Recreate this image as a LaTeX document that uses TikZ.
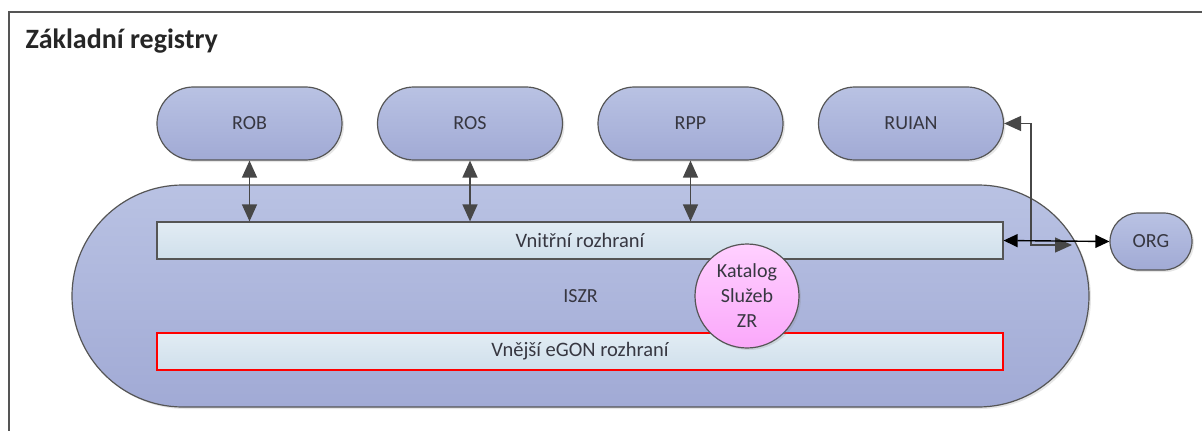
\documentclass[tikz,border=0pt]{standalone}
\usepackage{fontspec}
\setmainfont{Carlito}
\usetikzlibrary{arrows.meta, shadows}

\definecolor{regtop}{RGB}{185,194,227}
\definecolor{regbot}{RGB}{161,170,213}
\definecolor{iftop}{RGB}{226,236,244}
\definecolor{ifbot}{RGB}{207,223,235}
\definecolor{katop}{RGB}{255,208,255}
\definecolor{kabot}{RGB}{250,168,250}
\definecolor{edge}{RGB}{85,85,85}
\definecolor{txt}{RGB}{55,55,65}

\begin{document}
\begin{tikzpicture}[x=1pt, y=-1pt,
  registr/.style={draw=edge, line width=1.2pt, top color=regtop, bottom color=regbot,
    text=txt, font=\fontsize{20}{24}\selectfont,
    drop shadow={opacity=0.2, shadow xshift=2pt, shadow yshift=-2pt}},
  rozhrani/.style={draw=edge, line width=1.2pt, top color=iftop, bottom color=ifbot,
    text=txt, font=\fontsize{20.5}{24}\selectfont, minimum width=846pt, minimum height=37pt},
  spoj/.style={-, line width=1.4pt, draw=black!72},
  hrot/.style={arrows={Triangle[length=17pt, width=15pt]-Triangle[length=17pt, width=15pt]}}]

  \useasboundingbox (0,0) rectangle (1202,431);

  % Frame and title
  \draw[edge, line width=1.5pt] (1202,12) -- (9,12) -- (9,431);
  \node[anchor=base west, text=black!85, font=\fontsize{28}{32}\selectfont\bfseries]
    (nadpis) at (22,48) {Základní registry};

  % ISZR
  \node[registr, minimum width=1017pt, minimum height=222pt, rounded corners=110.9pt]
    (iszr) at (580.5,296) {ISZR};

  % Registers
  \node[registr, minimum width=185pt, minimum height=73pt, rounded corners=36.4pt]
    (rob) at (249.5,123.5) {ROB};
  \node[registr, minimum width=185pt, minimum height=73pt, rounded corners=36.4pt]
    (ros) at (470,123.5) {ROS};
  \node[registr, minimum width=185pt, minimum height=73pt, rounded corners=36.4pt]
    (rpp) at (690.5,123.5) {RPP};
  \node[registr, minimum width=185pt, minimum height=73pt, rounded corners=36.4pt]
    (ruian) at (911,123.5) {RUIAN};
  \node[registr, minimum width=82pt, minimum height=57pt, rounded corners=28.4pt]
    (org) at (1151,241.5) {ORG};

  % Interfaces
  \node[rozhrani] (vnitrni) at (580,240.5) {Vnitřní rozhraní};
  \node[rozhrani, draw=red, line width=2.6pt] (vnejsi) at (580,351.5) {Vnější eGON rozhraní};

  % Katalog
  \node[circle, draw=edge, line width=1.2pt, top color=katop, bottom color=kabot,
    minimum size=104pt, inner sep=0pt, align=center, text=txt,
    font=\fontsize{20}{25}\selectfont,
    drop shadow={opacity=0.2, shadow xshift=2pt, shadow yshift=-2pt}]
    (katalog) at (747,296) {Katalog\\Služeb\\ZR};

  % Connections
  \draw[spoj, hrot] (rob.south) -- (rob.south |- vnitrni.north);
  \draw[spoj, hrot] (ros.south) -- (ros.south |- vnitrni.north);
  \draw[spoj, hrot] (rpp.south) -- (rpp.south |- vnitrni.north);
  \coordinate (iszrE) at (1072,245);
  \draw[spoj, hrot] (ruian.east) -- (1031,123.5) -- (1031,245) -- (iszrE);
  \draw[spoj, draw=black, arrows={Triangle[length=14pt, width=13pt]-Triangle[length=14pt, width=13pt]}]
    (vnitrni.east) -- (org.west);

\end{tikzpicture}
\end{document}
